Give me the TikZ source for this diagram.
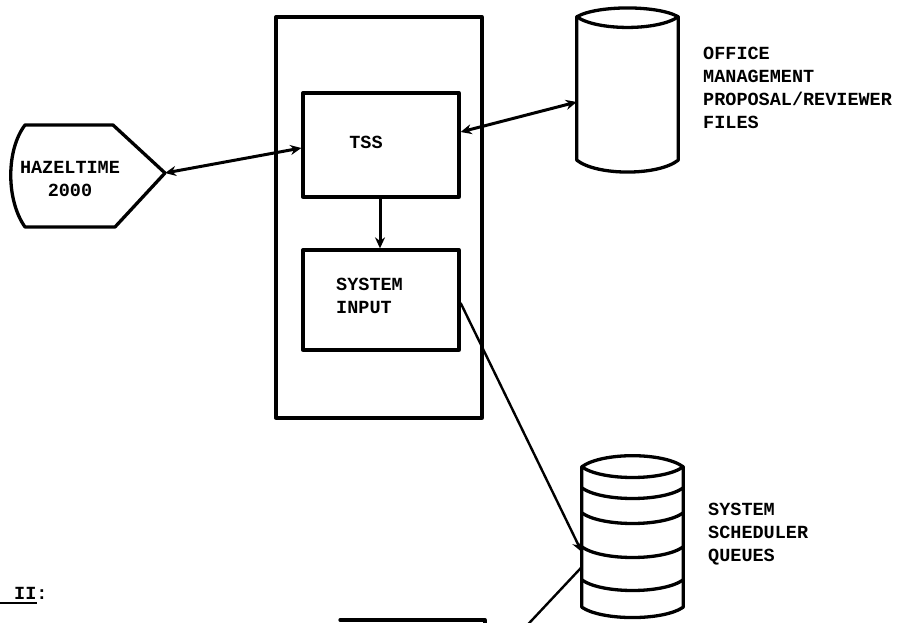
\documentclass[tikz,border=0pt]{standalone}
\usepackage{fontspec}
\setmonofont{Liberation Mono}
\usetikzlibrary{arrows.meta,calc}

\tikzset{
  outline/.style={line width=3.3pt, line join=round, line cap=round},
  boxnode/.style={draw, outline, rectangle, inner sep=0pt},
  ghost/.style={rectangle, inner sep=0pt},
  label/.style={font=\ttfamily\bfseries\fontsize{18.5}{23}\selectfont, inner sep=0pt, align=left},
  link/.style={line width=3pt},
  tip/.style={-{Stealth[length=11pt,width=10pt]}},
  twotip/.style={{Stealth[length=11pt,width=10pt]}-{Stealth[length=11pt,width=10pt]}}
}

\begin{document}
\begin{tikzpicture}[x=1pt,y=-1pt]
\useasboundingbox (0,0) rectangle (900,623);
\begin{scope}
\clip (0,0) rectangle (900,623);

% processor frame with its two modules
\node[boxnode, minimum width=206pt, minimum height=401pt] (frame) at (379,217.5) {};
\node[boxnode, minimum width=156pt, minimum height=104pt] (tss) at (381,145) {};
\node[boxnode, minimum width=156pt, minimum height=100pt] (sysin) at (381,300) {};
\node[label] (tsstext) at (366,142) {TSS};
\node[label, anchor=west] (sysintext) at (336,296) {SYSTEM\\INPUT};

% display terminal
\node[ghost, minimum width=154pt, minimum height=102pt] (hazel) at (88,176) {};
\draw[outline] (25,125) -- (113,125) -- (165,173) coordinate (hazeltip)
  -- (115,227) -- (25,227) .. controls (6,200) and (6,150) .. cycle;
\node[label, align=center] (hazeltext) at (70,179) {HAZELTIME\\2000};

% office file (disk)
\node[ghost, minimum width=101pt, minimum height=143pt] (office) at (627.5,88.5) {};
\draw[outline] (office.north west) .. controls (597,5) and (658,5) .. (office.north east)
  -- (office.south east) .. controls (658,176) and (597,176) .. (office.south west) -- cycle;
\draw[outline] (office.north west) .. controls (597,31) and (658,31) .. (office.north east);
\node[label, anchor=west] (officetext) at (703,88) {OFFICE\\MANAGEMENT\\PROPOSAL/REVIEWER\\FILES};

% scheduler queues (stacked disk)
\node[ghost, minimum width=101pt, minimum height=140pt] (sched) at (632.5,537) {};
\draw[outline] (sched.north west) .. controls (602,452) and (663,452) .. (sched.north east)
  -- (sched.south east) .. controls (663,621) and (602,621) .. (sched.south west) -- cycle;
\foreach \y in {467,488,513,547,580}
  \draw[outline] (582,\y) .. controls (602,\y+14) and (663,\y+14) .. (683,\y);
\node[label, anchor=west] (schedtext) at (708,534) {SYSTEM\\SCHEDULER\\QUEUES};

% connectors
\draw[link, twotip] (hazeltip) -- ([yshift=-3pt]tss.west);
\draw[link, tip] ([xshift=-1pt]tss.south) -- ([xshift=-1pt]sysin.north);
\draw[link, twotip] ([yshift=13pt]tss.east) -- ([yshift=-13.5pt]office.west);
\draw[line width=2.4pt, tip] ([yshift=-3pt]sysin.east) -- ([yshift=-15pt]sched.west);
\coordinate (below) at (518,635);
\draw[line width=2.4pt] ([yshift=-30pt]sched.west) -- (below);

% next phase box, running off the lower edge
\coordinate (nextright) at (485,640);
\draw[outline] (340,620) -- (485,620) -- (nextright);

% phase heading
\node[label, anchor=west] (phase) at (14,593) {II:};
\draw[line width=1.8pt] (0,603) -- (37,603);
\end{scope}
\end{tikzpicture}
\end{document}
